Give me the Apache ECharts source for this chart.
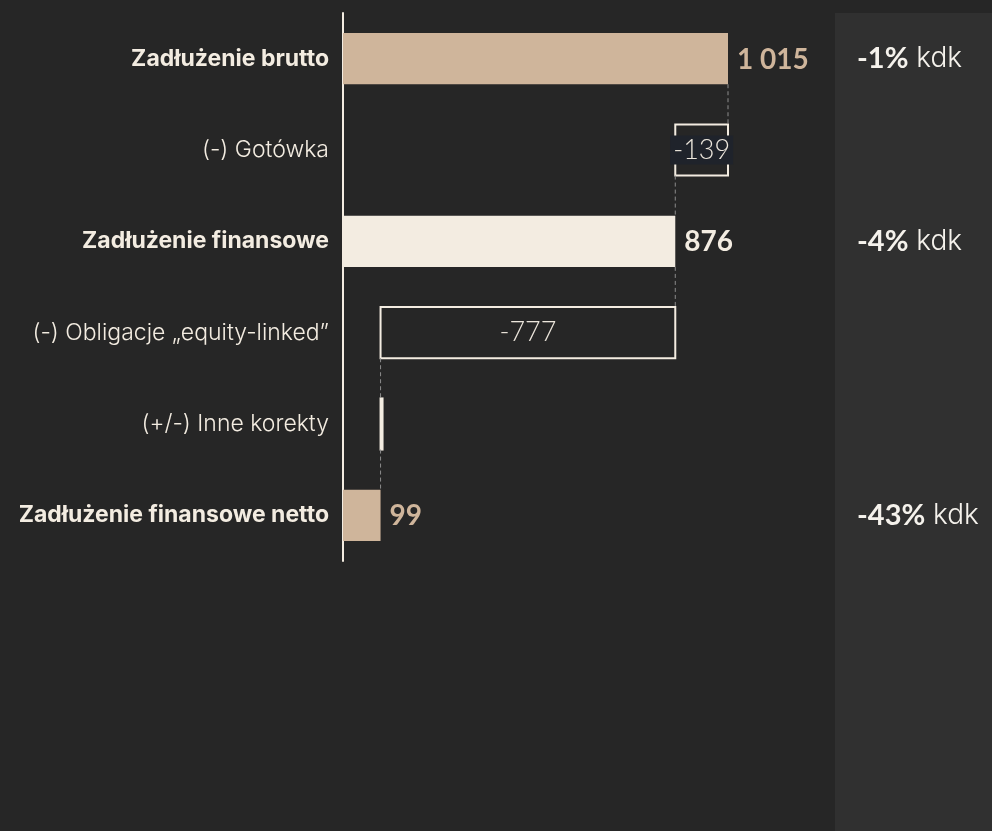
<!DOCTYPE html>
<html>
<head>
<meta charset="utf-8">
<script src="https://cdn.jsdelivr.net/npm/echarts@6/dist/echarts.min.js"></script>
<style>
  html, body { margin: 0; padding: 0; background: #262626; }
  #chart { width: 992px; height: 831px; }
</style>
</head>
<body>
<div id="chart"></div>
<script>
// dane
var categories = ['Zadłużenie brutto', '(-) Gotówka', 'Zadłużenie finansowe',
    '(-) Obligacje „equity-linked”', '(+/-) Inne korekty', 'Zadłużenie finansowe netto'];
var values = [1015, -139, 876, -777, 0, 99];
var isTotal = [true, false, true, false, false, true];
var changes = ['-1%', '', '-4%', '', '', '-43%'];

var TAN = '#cfb59b', CREAM = '#f3ece1';
var FONT = 'Lato, "Noto Sans", sans-serif';
var LABEL_FONT = 'Inter, "Open Sans", sans-serif';
var barColors = [TAN, null, CREAM, null, null, TAN];

// start / koniec kazdego slupka
var wf = [];
var running = 0;
values.forEach(function (v, i) {
    if (isTotal[i]) { wf.push([0, v, i]); running = v; }
    else { wf.push([running, running + v, i]); running += v; }
});

function fmt(n) {
    var s = String(Math.abs(n)).replace(/\B(?=(\d{3})+(?!\d))/g, ' ');
    return (n < 0 ? '-' : '') + s;
}

var chart = echarts.init(document.getElementById('chart'));

function renderItem(params, api) {
    var i = api.value(2);
    var s = api.value(0), e = api.value(1);
    var a = api.coord([Math.min(s, e), i]);
    var b = api.coord([Math.max(s, e), i]);
    var h = api.size([0, 1])[1] * 0.56;
    var y0 = a[1] - h / 2;
    var w = Math.max(b[0] - a[0], 2);
    var children = [];

    // linia laczaca z poprzednim
    if (i > 0) {
        var prevEnd = wf[i - 1][1];
        var px = api.coord([prevEnd, i - 1]);
        var startX = api.coord([isTotal[i] ? e : s, i])[0];
        children.push({
            type: 'line',
            shape: { x1: startX, y1: px[1] + h / 2, x2: startX, y2: y0 },
            style: { stroke: '#8c8c8c', lineWidth: 1, lineDash: [4, 3] }
        });
    }

    if (isTotal[i]) {
        children.push({
            type: 'rect',
            shape: { x: a[0], y: y0, width: w, height: h },
            style: { fill: barColors[i] }
        });
        children.push({
            type: 'text',
            style: {
                x: b[0] + 9, y: a[1] + 1, text: fmt(values[i]),
                fill: barColors[i], font: 'bold 28px ' + FONT,
                align: 'left', verticalAlign: 'middle'
            }
        });
    } else {
        children.push({
            type: 'rect',
            shape: { x: a[0], y: y0, width: w, height: h },
            style: { fill: 'none', stroke: CREAM, lineWidth: 2 }
        });
        if (values[i] !== 0) {
            var narrow = w < 70;
            children.push({
                type: 'text',
                style: {
                    x: a[0] + w / 2, y: a[1], text: fmt(values[i]),
                    fill: '#ece6dc', font: '300 27px ' + FONT,
                    align: 'center', verticalAlign: 'middle',
                    backgroundColor: narrow ? '#1f232b' : null,
                    padding: narrow ? [1, 3, 1, 3] : 0
                }
            });
        }
    }
    return { type: 'group', children: children };
}

var option = {
    backgroundColor: '#262626',
    animation: false,
    graphic: [{
        type: 'rect', z: -1,
        shape: { x: 835, y: 13, width: 157, height: 818 },
        style: { fill: '#303030' }
    }],
    grid: { left: 343, top: 13, width: 385, height: 548 },
    xAxis: { type: 'value', min: 0, max: 1015, show: false },
    yAxis: [{
        type: 'category', data: categories, inverse: true,
        axisLine: { show: true, lineStyle: { color: CREAM, width: 2 } },
        axisTick: { show: false }, splitLine: { show: false },
        axisLabel: {
            margin: 14,
            formatter: function (val, idx) {
                return isTotal[idx] ? '{b|' + val + '}' : '{n|' + val + '}';
            },
            rich: {
                b: { fontFamily: LABEL_FONT, fontWeight: 'bold', fontSize: 23, color: CREAM },
                n: { fontFamily: LABEL_FONT, fontWeight: 300, fontSize: 23, color: CREAM }
            }
        }
    }, {
        type: 'category', data: changes, inverse: true, position: 'right',
        axisLine: { show: false }, axisTick: { show: false }, splitLine: { show: false },
        axisLabel: {
            margin: 129, align: 'left',
            formatter: function (val) { return val ? '{b|' + val + '}{n| kdk}' : ''; },
            rich: {
                b: { fontFamily: FONT, fontWeight: 'bold', fontSize: 29, color: '#f5f2ec' },
                n: { fontFamily: LABEL_FONT, fontWeight: 300, fontSize: 28, color: '#f5f2ec' }
            }
        }
    }],
    series: [{
        type: 'custom',
        renderItem: renderItem,
        encode: { x: [0, 1], y: 2 },
        data: wf
    }]
};

chart.setOption(option);
window.addEventListener('resize', function () { chart.resize(); });
</script>
</body>
</html>
